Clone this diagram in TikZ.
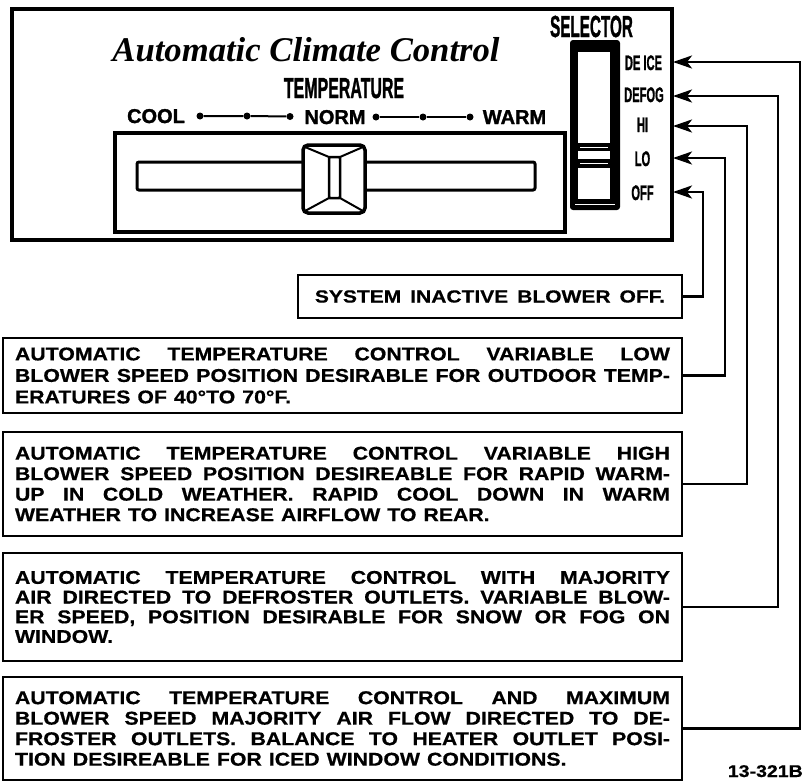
\documentclass[tikz,border=0pt]{standalone}
\usepackage{fontspec}
\usepackage{graphicx}
\setmainfont{Liberation Sans}
\newfontfamily\boxfont{Liberation Sans Bold}[FakeStretch=1.15, FakeBold=0.6]
\newfontfamily\wideboxfont{Liberation Sans Bold}[FakeStretch=1.2, FakeBold=0.6]
\newfontfamily\heavyfont{Liberation Sans Bold}[FakeBold=1.5]
\newfontfamily\titlefont{Liberation Serif}
\usetikzlibrary{arrows.meta,calc}
\newcommand\cnd[2][0.52]{\scalebox{#1}[1]{#2}}
\newcommand\boxsetup[1]{\boxfont\fontsize{18.5}{#1}\selectfont
  \spaceskip=7pt plus 40pt minus 3pt\xspaceskip=7pt plus 40pt minus 3pt}
\begin{document}
\begin{tikzpicture}[x=1pt,y=-1pt,
  panelline/.style={line width=4pt},
  trackline/.style={line width=3pt, rounded corners=2pt},
  descbox/.style={draw, line width=2.8pt, inner xsep=12pt, inner ysep=0pt,
     text width=655pt, align=justify, minimum height=#1,
     font=\boxsetup{20.5pt}},
  conn/.style={line width=2.5pt, -{Stealth[length=19pt,width=13pt,inset=5pt]}},
  scale label/.style={anchor=base, inner sep=0pt, font=\heavyfont\fontsize{21}{21}\selectfont},
  rowlabel/.style={anchor=base, inner sep=0pt, font=\heavyfont\fontsize{20}{20}\selectfont},
  dot/.style={fill, circle, inner sep=0pt, minimum size=7pt}]
\useasboundingbox (0,0) rectangle (805,782);

% ---------- panel ----------
\draw[panelline] (12,9) rectangle (672,240);
\draw[line width=3.5pt] (115,133) rectangle (565,232);

\node[anchor=base, inner sep=0pt] (title) at (306,61)
  {\resizebox{387pt}{!}{\titlefont\bfseries\itshape Automatic Climate Control}};
\node[anchor=base, inner sep=0pt, font=\heavyfont\fontsize{29}{29}\selectfont] (temp) at (344,98)
  {\cnd[0.55]{TEMPERATURE}};

\node[rowlabel] (cool) at (156,123) {COOL};
\node[rowlabel] (norm) at (335,124) {NORM};
\node[rowlabel] (warm) at (514.5,124) {WARM};
\node[dot] (d1) at (200,116) {};
\node[dot] (d2) at (247,116) {};
\node[dot] (d3) at (290,116.5) {};
\node[dot] (d4) at (376,117) {};
\node[dot] (d5) at (423,117) {};
\node[dot] (d6) at (470,117) {};
\draw[line width=2pt] (d1) -- (d2) -- (d3);
\draw[line width=2pt] (d4) -- (d5) -- (d6);

% slider
\draw[trackline] (137,162) rectangle (535,190);
\draw[line width=3.5pt, fill=white, rounded corners=5pt] (303,145) rectangle (365,213);
\draw[line width=2.5pt, rounded corners=1pt] (329,157) rectangle (340,198);
\draw[line width=2pt] (305,147) -- (329,157) (363,147) -- (340,157)
                      (305,211) -- (329,198) (363,211) -- (340,198);

% selector
\node[anchor=base, inner sep=0pt, font=\heavyfont\fontsize{30.5}{30.5}\selectfont] (sel) at (591.5,37)
  {\cnd[0.5]{SELECTOR}};
\fill[rounded corners=3pt] (570,40) rectangle (620,210);
\fill[white] (578,52) rectangle (610,143);
\fill[white] (578,151) rectangle (610,159);
\fill[white] (578,168) rectangle (610,199);
\draw[white, line width=1pt] (580,147) -- (608,147) (580,163) -- (608,163) (575,204.5) -- (615,204.5);

\node[scale label] (ldeice) at (643.5,70) {\cnd[0.53]{DE ICE}};
\node[scale label] (ldefog) at (644,102) {\cnd[0.53]{DEFOG}};
\node[scale label] (lhi) at (642.5,132) {\cnd[0.53]{HI}};
\node[scale label] (llo) at (642.5,166) {\cnd[0.53]{LO}};
\node[scale label] (loff) at (642.5,200) {\cnd[0.53]{OFF}};

\coordinate (aDEICE) at (673,62);
\coordinate (aDEFOG) at (673,96);
\coordinate (aHI) at (673,126);
\coordinate (aLO) at (673,158);
\coordinate (aOFF) at (673,192);

% ---------- description boxes ----------
\node[draw, line width=2.8pt, minimum width=384pt, minimum height=43pt, inner sep=0pt,
  font={\wideboxfont\fontsize{17.5}{20.5}\selectfont\spaceskip=9pt plus 4pt minus 2pt}] (b1) at (490,296.5)
  {SYSTEM INACTIVE BLOWER OFF.};

\node[descbox=75pt, font=\boxsetup{21.5pt}] (b2) at (342.5,375.5)
  {AUTOMATIC TEMPERATURE CONTROL VARIABLE LOW\linebreak
   BLOWER SPEED POSITION DESIRABLE FOR OUTDOOR TEMP-\linebreak
   ERATURES OF 40°TO 70°F.};

\node[descbox=104pt] (b3) at (342.5,484)
  {AUTOMATIC TEMPERATURE CONTROL VARIABLE HIGH\linebreak
   BLOWER SPEED POSITION DESIREABLE FOR RAPID WARM-\linebreak
   UP IN COLD WEATHER. RAPID COOL DOWN IN WARM\linebreak
   WEATHER TO INCREASE AIRFLOW TO REAR.};

\node[descbox=108pt, font=\boxsetup{19.7pt}] (b4) at (342.5,607)
  {AUTOMATIC TEMPERATURE CONTROL WITH MAJORITY\linebreak
   AIR DIRECTED TO DEFROSTER OUTLETS. VARIABLE BLOW-\linebreak
   ER SPEED, POSITION DESIRABLE FOR SNOW OR FOG ON\linebreak
   WINDOW.};

\node[descbox=103pt] (b5) at (342.5,728.5)
  {AUTOMATIC TEMPERATURE CONTROL AND MAXIMUM\linebreak
   BLOWER SPEED MAJORITY AIR FLOW DIRECTED TO DE-\linebreak
   FROSTER OUTLETS. BALANCE TO HEATER OUTLET POSI-\linebreak
   TION DESIREABLE FOR ICED WINDOW CONDITIONS.};

% ---------- connectors ----------
\draw[conn] (b1.east) -| (703,192) -- (aOFF);
\draw[conn] (b2.east) -| (725,158) -- (aLO);
\draw[conn] (b3.east) -| (747,126) -- (aHI);
\draw[conn] (b4.east) -| (778,96) -- (aDEFOG);
\draw[conn] (b5.east) -| (800,62) -- (aDEICE);

\node[anchor=base east, inner sep=0pt, font=\boxfont\fontsize{17}{17}\selectfont] (fig) at (803,777) {13-321B};
\end{tikzpicture}
\end{document}
